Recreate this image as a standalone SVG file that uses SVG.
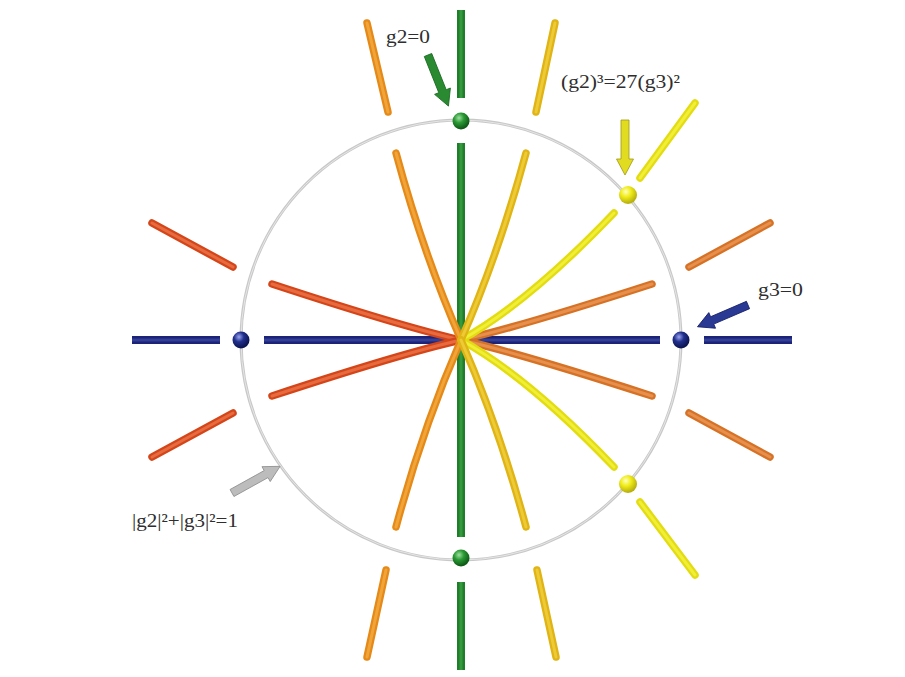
<svg xmlns="http://www.w3.org/2000/svg" xmlns:xlink="http://www.w3.org/1999/xlink" width="905" height="677" viewBox="0 0 905 677">
<style>
.b{fill:none;stroke-linecap:round;stroke-width:7.5}
.h{fill:none;stroke-linecap:round;stroke-width:3;opacity:.6}
.sq{fill:none;stroke-linecap:butt;stroke-width:8}
.sqh{fill:none;stroke-linecap:butt;stroke-width:3;opacity:.6}
.red{stroke:#d4461a}.redh{stroke:#f58358}
.or{stroke:#e58a18}.orh{stroke:#f9b850}
.ro{stroke:#d67226}.roh{stroke:#f2a466}
.go{stroke:#dfb414}.goh{stroke:#f6d84c}
.ye{stroke:#e2dc10}.yeh{stroke:#fafa50}
.gr{stroke:#1f7e29}.grh{stroke:#44ac4c}
.bl{stroke:#1b2478}.blh{stroke:#4450aa}
.lbl{font-family:"Liberation Serif","Times New Roman",serif;font-size:19px;fill:#2e2e2e}
</style>
<defs>
<radialGradient id="sg" cx="38%" cy="32%" r="65%"><stop offset="0" stop-color="#9fe0a0"/><stop offset="0.45" stop-color="#2a9a34"/><stop offset="1" stop-color="#0e5a16"/></radialGradient>
<radialGradient id="sb" cx="38%" cy="32%" r="65%"><stop offset="0" stop-color="#9aa4ee"/><stop offset="0.45" stop-color="#22308e"/><stop offset="1" stop-color="#0c1450"/></radialGradient>
<radialGradient id="sy" cx="38%" cy="32%" r="65%"><stop offset="0" stop-color="#ffffc0"/><stop offset="0.45" stop-color="#f0ec18"/><stop offset="1" stop-color="#b8b010"/></radialGradient>
<path id="arr" d="M0,-4 H39 V-8.5 L55,0 L39,8.5 V4 H0 Z"/>
<path id="cTL" d="M396,153 Q423,253 461,340"/>
<path id="cTR" d="M526,153 Q499,253 461,340"/>
<path id="cBL" d="M396,527 Q423,427 461,340"/>
<path id="cBR" d="M526,527 Q499,427 461,340"/>
<path id="cUL" d="M272,284 Q403,327 461,340"/>
<path id="cLL" d="M272,396 Q403,353 461,340"/>
<path id="cUR" d="M652,284 Q519,327 461,340"/>
<path id="cLR" d="M652,396 Q519,353 461,340"/>
<path id="cUY" d="M614,213 Q528,303 461,340"/>
<path id="cLY" d="M614,467 Q528,377 461,340"/>
<path id="oTL" d="M367,23 L388,112"/>
<path id="oTR" d="M555,23 L536,112"/>
<path id="oBL" d="M386,570 L367,657"/>
<path id="oBR" d="M537,570 L556,657"/>
<path id="oUY" d="M695,103 L640,178"/>
<path id="oLY" d="M640,502 L695,575"/>
<path id="oUL" d="M152,223 L233,267"/>
<path id="oLL" d="M152,457 L233,413"/>
<path id="oUR" d="M770,223 L689,267"/>
<path id="oLR" d="M770,457 L689,413"/>
<path id="gT" d="M461,10 V98"/>
<path id="gM" d="M461,143 V537"/>
<path id="gB" d="M461,582 V670"/>
<path id="bL" d="M132,340 H220"/>
<path id="bM" d="M264,340 H660"/>
<path id="bR" d="M704,340 H792"/>
</defs>
<rect width="905" height="677" fill="#ffffff"/>
<g id="unit-circle">
<circle cx="461" cy="340" r="220" fill="none" stroke="#c8c8c8" stroke-width="3"/>
<circle cx="461" cy="340" r="220" fill="none" stroke="#e6e6e6" stroke-width="1"/>
</g>
<g id="connectors">
<use href="#oTL" class="b or"/><use href="#oTL" class="h orh"/>
<use href="#oBL" class="b or"/><use href="#oBL" class="h orh"/>
<use href="#oTR" class="b go"/><use href="#oTR" class="h goh"/>
<use href="#oBR" class="b go"/><use href="#oBR" class="h goh"/>
<use href="#oUY" class="b ye"/><use href="#oUY" class="h yeh"/>
<use href="#oLY" class="b ye"/><use href="#oLY" class="h yeh"/>
<use href="#oUL" class="b red"/><use href="#oUL" class="h redh"/>
<use href="#oLL" class="b red"/><use href="#oLL" class="h redh"/>
<use href="#oUR" class="b ro"/><use href="#oUR" class="h roh"/>
<use href="#oLR" class="b ro"/><use href="#oLR" class="h roh"/>
<use href="#gT" class="sq gr"/><use href="#gT" class="sqh grh"/>
<use href="#gB" class="sq gr"/><use href="#gB" class="sqh grh"/>
<use href="#bL" class="sq bl"/><use href="#bL" class="sqh blh"/>
<use href="#bR" class="sq bl"/><use href="#bR" class="sqh blh"/>
<use href="#bM" class="sq bl"/><use href="#bM" class="sqh blh"/>
<use href="#cUL" class="b red"/><use href="#cUL" class="h redh"/>
<use href="#cLL" class="b red"/><use href="#cLL" class="h redh"/>
<use href="#cUR" class="b ro"/><use href="#cUR" class="h roh"/>
<use href="#cLR" class="b ro"/><use href="#cLR" class="h roh"/>
<use href="#cUY" class="b ye"/><use href="#cUY" class="h yeh"/>
<use href="#cLY" class="b ye"/><use href="#cLY" class="h yeh"/>
<use href="#gM" class="sq gr"/><use href="#gM" class="sqh grh"/>
<use href="#cTL" class="b or"/><use href="#cTL" class="h orh"/>
<use href="#cBL" class="b or"/><use href="#cBL" class="h orh"/>
<use href="#cTR" class="b go"/><use href="#cTR" class="h goh"/>
<use href="#cBR" class="b go"/><use href="#cBR" class="h goh"/>
</g>
<g id="sphere-top"><circle cx="461" cy="121" r="8.5" fill="url(#sg)"/></g>
<g id="sphere-bottom"><circle cx="461" cy="558" r="8.5" fill="url(#sg)"/></g>
<g id="sphere-left"><circle cx="241" cy="340" r="8.5" fill="url(#sb)"/></g>
<g id="sphere-right"><circle cx="681" cy="340" r="8.5" fill="url(#sb)"/></g>
<g id="sphere-yellow-upper"><circle cx="628" cy="195" r="9" fill="url(#sy)"/></g>
<g id="sphere-yellow-lower"><circle cx="628" cy="484" r="9" fill="url(#sy)"/></g>
<g id="label-g2">
<use href="#arr" transform="translate(428,55) rotate(68.2)" fill="#2a8a32" stroke="#1a6a22" stroke-width="0.8"/>
<text class="lbl" x="386" y="43" textLength="44" lengthAdjust="spacingAndGlyphs">g2=0</text>
</g>
<g id="label-disc">
<use href="#arr" transform="translate(625,120) rotate(90)" fill="#e2dc20" stroke="#a09814" stroke-width="0.8"/>
<text class="lbl" x="561" y="88" textLength="119" lengthAdjust="spacingAndGlyphs">(g2)³=27(g3)²</text>
</g>
<g id="label-g3">
<use href="#arr" transform="translate(748,305) rotate(156.7)" fill="#2a3a94" stroke="#161f66" stroke-width="0.8"/>
<text class="lbl" x="758" y="296" textLength="45" lengthAdjust="spacingAndGlyphs">g3=0</text>
</g>
<g id="label-sphere">
<use href="#arr" transform="translate(232,493) rotate(-29)" fill="#bcbcbc" stroke="#909090" stroke-width="0.8"/>
<text class="lbl" x="132" y="527" textLength="106" lengthAdjust="spacingAndGlyphs">|g2|²+|g3|²=1</text>
</g>
</svg>
